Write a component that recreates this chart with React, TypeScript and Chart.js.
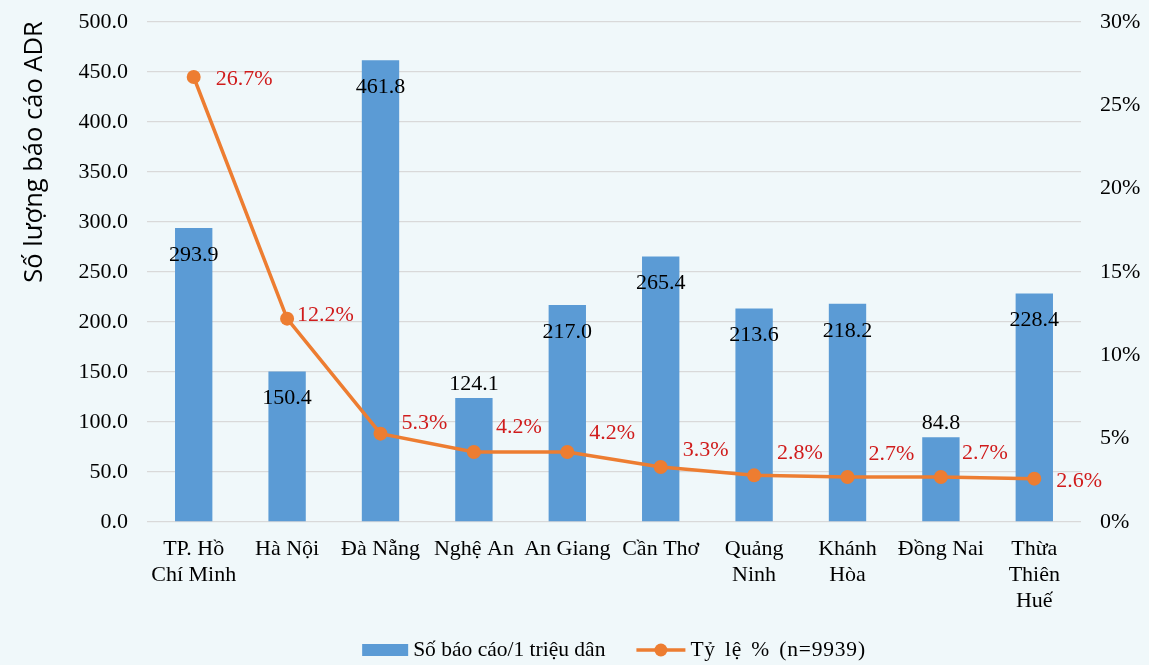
import React, { useEffect, useRef } from 'react';
import { Chart, registerables } from 'chart.js';

Chart.register(...registerables);

const categories: (string | string[])[] = [
  ['TP. Hồ', 'Chí Minh'],
  'Hà Nội',
  'Đà Nẵng',
  'Nghệ An',
  'An Giang',
  'Cần Thơ',
  ['Quảng', 'Ninh'],
  ['Khánh', 'Hòa'],
  'Đồng Nai',
  ['Thừa', 'Thiên', 'Huế'],
];
const reportsPerMillion = [293.9, 150.4, 461.8, 124.1, 217.0, 265.4, 213.6, 218.2, 84.8, 228.4];
const sharePercent = [26.7, 12.2, 5.3, 4.2, 4.2, 3.3, 2.8, 2.7, 2.7, 2.6];
const barSeriesName = 'Số báo cáo/1 triệu dân';
const lineSeriesName = 'Tỷ lệ % (n=9939)';
const yAxisTitle = 'Số lượng báo cáo ADR';
const leftAxisMin = 0;
const leftAxisMax = 500;
const leftAxisStep = 50;
const rightAxisMin = 0;
const rightAxisMax = 30;
const rightAxisStep = 5;

// label placement config (not data)
const barLabelPlacement = ['in', 'in', 'in', 'out', 'in', 'in', 'in', 'in', 'out', 'in'];
const lineLabelOffsets: [number, number][] = [
  [22, 2], [10, -3], [21, -10], [22, -25], [22, -19], [22, -17], [23, -22], [21, -23], [21, -24], [22, 3],
];

const BG = '#f0f8fa';
const BLUE = '#5b9bd5';
const ORANGE = '#ed7d31';
const RED = '#d01c1c';
const SERIF = '"Liberation Serif", "Times New Roman", serif';
const SANS = '"Open Sans", "Noto Sans", sans-serif';

export default function App() {
  const ref = useRef<HTMLCanvasElement | null>(null);

  useEffect(() => {
    document.body.style.margin = '0';
    document.body.style.background = BG;
    const canvas = ref.current;
    if (!canvas) return;

    const W = 1149, H = 665;
    const AREA_L = 147, AREA_R = 1081, AREA_T = 22, AREA_B = 522;

    const decorPlugin = {
      id: 'decor',
      beforeDraw(chart: any) {
        const ctx = chart.ctx;
        ctx.save();
        ctx.fillStyle = BG;
        ctx.fillRect(0, 0, chart.width, chart.height);
        ctx.restore();
      },
      afterDatasetsDraw(chart: any) {
        const ctx = chart.ctx;
        ctx.save();
        ctx.font = `22px ${SERIF}`;
        ctx.textBaseline = 'middle';
        const barMeta = chart.getDatasetMeta(0);
        ctx.fillStyle = '#000';
        ctx.textAlign = 'center';
        barMeta.data.forEach((el: any, i: number) => {
          const v = reportsPerMillion[i];
          const y = barLabelPlacement[i] === 'in' ? el.y + 27 : el.y - 14;
          ctx.fillText(v.toFixed(1), el.x, y);
        });
        const lineMeta = chart.getDatasetMeta(1);
        ctx.fillStyle = RED;
        ctx.textAlign = 'left';
        lineMeta.data.forEach((el: any, i: number) => {
          const [dx, dy] = lineLabelOffsets[i];
          ctx.fillText(sharePercent[i].toFixed(1) + '%', el.x + dx, el.y + dy);
        });
        ctx.restore();
      },
      afterDraw(chart: any) {
        const ctx = chart.ctx;
        const area = chart.chartArea;
        ctx.save();
        ctx.translate(35, 152);
        ctx.rotate(-Math.PI / 2);
        ctx.font = `25.5px ${SANS}`;
        ctx.fillStyle = '#000';
        ctx.textAlign = 'center';
        ctx.textBaseline = 'middle';
        ctx.fillText(yAxisTitle, 0, 0);
        ctx.restore();

        ctx.save();
        ctx.font = `21.5px ${SERIF}`;
        ctx.textBaseline = 'middle';
        const t1 = ctx.measureText(barSeriesName).width;
        (ctx as any).wordSpacing = '3px';
        (ctx as any).letterSpacing = '0.8px';
        const t2 = ctx.measureText(lineSeriesName).width;
        (ctx as any).wordSpacing = '0px';
        (ctx as any).letterSpacing = '0px';
        const boxW = 46, lineW = 49, gap = 5, itemGap = 31;
        const total = boxW + gap + t1 + itemGap + lineW + gap + t2;
        let x = (area.left + area.right) / 2 - total / 2;
        const y = 650;
        ctx.fillStyle = BLUE;
        ctx.fillRect(x, y - 6, boxW, 12);
        x += boxW + gap;
        ctx.fillStyle = '#000';
        ctx.textAlign = 'left';
        ctx.fillText(barSeriesName, x, y);
        x += t1 + itemGap;
        ctx.strokeStyle = ORANGE;
        ctx.lineWidth = 3.5;
        ctx.beginPath();
        ctx.moveTo(x, y);
        ctx.lineTo(x + lineW, y);
        ctx.stroke();
        ctx.fillStyle = ORANGE;
        ctx.beginPath();
        ctx.arc(x + lineW / 2, y, 6.5, 0, Math.PI * 2);
        ctx.fill();
        x += lineW + gap;
        ctx.fillStyle = '#000';
        (ctx as any).wordSpacing = '3px';
        (ctx as any).letterSpacing = '0.8px';
        ctx.fillText(lineSeriesName, x, y);
        ctx.restore();
      },
    };

    const chart = new Chart(canvas, {
      type: 'bar',
      data: {
        labels: categories,
        datasets: [
          {
            type: 'bar',
            label: barSeriesName,
            data: reportsPerMillion,
            backgroundColor: BLUE,
            borderWidth: 0,
            barPercentage: 0.8,
            categoryPercentage: 0.5,
            yAxisID: 'y',
            order: 1,
          },
          {
            type: 'line',
            label: lineSeriesName,
            data: sharePercent,
            borderColor: ORANGE,
            backgroundColor: ORANGE,
            borderWidth: 3.5,
            pointRadius: 7,
            pointBackgroundColor: ORANGE,
            pointBorderColor: ORANGE,
            pointBorderWidth: 0,
            tension: 0,
            yAxisID: 'y1',
            order: 0,
          } as any,
        ],
      },
      options: {
        responsive: false,
        animation: false,
        devicePixelRatio: 1,
        layout: { padding: { left: 0, right: 0, top: AREA_T, bottom: 0 } },
        plugins: {
          legend: { display: false },
          tooltip: { enabled: false },
        },
        scales: {
          x: {
            grid: { display: false, drawTicks: false },
            border: { display: false },
            ticks: {
              font: { family: SERIF, size: 22, lineHeight: 1.18 },
              color: '#000',
              padding: 14,
              maxRotation: 0,
              autoSkip: false,
            },
            afterFit: (s: any) => {
              s.height = H - AREA_B;
              s.paddingLeft = 0; s.paddingRight = 0;
            },
          },
          y: {
            position: 'left',
            min: leftAxisMin,
            max: leftAxisMax,
            grid: { color: '#d9d9d9', lineWidth: 1.3, drawTicks: false },
            border: { display: false },
            ticks: {
              stepSize: leftAxisStep,
              font: { family: SERIF, size: 22 },
              color: '#000',
              padding: 19,
              callback: (v: any) => Number(v).toFixed(1),
            },
            afterFit: (s: any) => {
              s.width = AREA_L;
              s.paddingTop = 0; s.paddingBottom = 0;
            },
          },
          y1: {
            position: 'right',
            min: rightAxisMin,
            max: rightAxisMax,
            grid: { display: false, drawTicks: false },
            border: { display: false },
            ticks: {
              stepSize: rightAxisStep,
              font: { family: SERIF, size: 22 },
              color: '#000',
              padding: 19,
              callback: (v: any) => `${v}%`,
            },
            afterFit: (s: any) => {
              s.width = W - AREA_R;
              s.paddingTop = 0; s.paddingBottom = 0;
            },
          },
        },
      },
      plugins: [decorPlugin],
    } as any);

    return () => chart.destroy();
  }, []);

  return (
    <div style={{ width: 1149, height: 665, background: BG }}>
      <canvas ref={ref} width={1149} height={665} style={{ display: 'block', width: 1149, height: 665 }} />
    </div>
  );
}
